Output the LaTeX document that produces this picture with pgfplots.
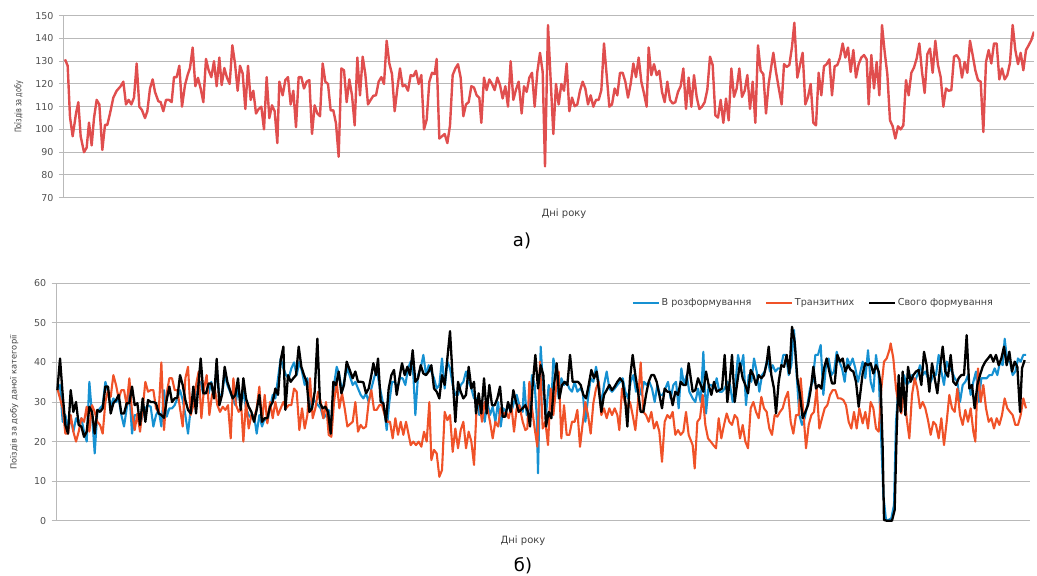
\documentclass[border=0pt]{standalone}
\usepackage{fontspec}
\setmainfont{DejaVu Sans}
\newfontfamily\narrowfont[FakeStretch=0.72]{DejaVu Sans}
\usepackage{pgfplots}
\usepackage{pgfplotstable}
\pgfplotsset{compat=1.18}
\definecolor{topred}{RGB}{224,78,78}
\definecolor{sblue}{RGB}{22,145,210}
\definecolor{sorange}{RGB}{240,82,40}
\definecolor{gridgray}{RGB}{185,185,185}
\definecolor{labelgray}{RGB}{80,80,80}
\definecolor{textgray}{RGB}{64,64,64}

\pgfplotstableread{
x y
195 130.8
203 128
210 105.5
218 97
228 107
235 112
242 97
252 90
260 92
267 103
275 93
282 105
290 113
298 111
307 91
315 102
322 102
330 107
340 114
350 117
362 119
370 121
378 111
386 113
394 111
402 114
410 129
418 110
426 108.5
435 105
442 108
450 118
458 122
465 116.5
475 112.4
482 112
490 108
498 113
507 113
515 112
522 123
530 123
538 128
546 110
555 119.5
563 124
570 127
578 136
586 119
594 122.7
602 118
610 112
618 131
626 126
634 123
642 130
650 119
658 131.6
665 119.5
673 127
681 122.7
689 120
697 137
705 129
713 117
720 128
728 124.6
736 109
744 128
752 113
760 117
768 107
776 109
784 110
792 100
800 123
808 105
816 110.6
824 108
832 94
838 121
848 115
856 121.7
864 123
872 111
880 117
888 101
896 123
904 123
912 118
920 121
928 121.7
936 98
944 110.6
952 107
960 105.8
968 129
976 121
984 120
992 108.4
1000 108.4
1008 102.6
1016 88
1024 126.8
1032 126
1040 112
1048 122
1056 115
1064 101.8
1072 131.6
1080 115
1088 132
1096 124.3
1104 111
1112 113
1120 114.8
1128 115
1136 121
1144 123
1152 120
1160 139
1168 129
1176 124.3
1184 108
1192 118
1200 126.8
1208 119
1216 119.5
1224 117
1232 123.9
1240 123.4
1248 125.8
1256 120
1264 123.9
1272 100
1280 104.3
1288 121
1296 124.9
1304 124.3
1310 131
1318 96
1326 97
1334 98
1342 94
1350 101.8
1358 123.9
1366 126.8
1374 128.7
1382 122.8
1390 105.8
1398 111
1406 112
1414 119
1422 118.4
1430 115
1438 113.9
1444 102.9
1452 122.8
1460 117.3
1468 122
1476 120
1484 117.3
1492 122.8
1500 119.5
1508 113.6
1516 119
1524 110
1532 130
1540 113
1548 117.5
1556 121
1565 107
1572 119
1580 116.5
1588 122.8
1596 124.9
1604 110
1612 125.3
1620 133.7
1628 125.3
1635 83.8
1644 145.9
1652 121.7
1660 98
1668 120
1676 111
1684 120
1692 117
1700 129
1708 108
1716 114
1724 110.2
1732 111
1740 117
1748 121
1756 118
1764 111
1772 115
1780 110
1788 113
1796 113
1804 117.3
1812 137.8
1820 123.9
1828 110
1836 111
1844 118
1852 115
1860 124.9
1868 124.9
1876 121
1884 114
1892 120
1900 129
1908 123
1916 131.6
1924 121
1932 115.8
1940 110
1946 136
1954 123.9
1962 128.7
1970 123.9
1978 125.8
1986 116.5
1994 112
2002 121
2010 113
2018 111.4
2026 112
2034 116.5
2042 119
2050 126.8
2058 109
2066 122.8
2074 110
2082 123.9
2090 114.3
2098 109
2106 110
2114 112
2122 117.5
2130 132
2138 128.3
2146 106.2
2154 105.2
2162 113
2170 102.9
2178 113.6
2186 104
2194 126.8
2202 114.3
2210 118
2218 126.8
2226 114.3
2234 117
2242 123.9
2250 109
2258 121
2266 102.9
2274 137
2282 125.8
2290 124.3
2298 107
2306 120
2320 133.7
2328 125.3
2336 118.4
2345 111
2352 128.7
2360 127.5
2368 128.3
2376 136.3
2383 146.9
2392 122.8
2400 128.3
2408 133.7
2416 111
2424 114.3
2432 120
2440 102.9
2448 101.8
2456 124.9
2464 115
2472 127.8
2480 128.7
2488 130.8
2496 115
2504 127.8
2512 128.3
2520 131.6
2528 137.8
2536 131.6
2544 136
2552 125.3
2560 134.9
2568 122.8
2576 128.7
2584 131.6
2592 132.7
2600 130.8
2606 111
2614 132.7
2622 118
2630 129.7
2638 115
2646 145.9
2654 134.1
2662 124.3
2670 104
2678 101.4
2686 96
2694 101.4
2702 100
2710 101.8
2718 121.7
2726 115
2734 124.9
2742 127.2
2750 131.2
2758 137.8
2766 125.3
2774 116
2782 133.1
2790 135.6
2798 124.9
2806 139
2814 128.3
2822 123
2830 110
2838 118
2846 117
2854 117.3
2862 132
2870 132.7
2878 130.8
2886 122.8
2894 129.7
2902 124.9
2910 139
2918 132.7
2926 126
2934 121.7
2942 121
2950 98.9
2958 129.7
2966 134.9
2974 129
2982 137.8
2990 137.8
2998 122
3006 126.8
3014 122
3022 123.9
3030 129.3
3038 145.9
3046 134.9
3054 128.7
3062 133.7
3070 126
3078 134.9
3086 137
3094 139.3
3102 143
}\topdata

\pgfplotstableread{
x y
172 33
180 34.3
188 25
196 26.7
204 23.3
212 25.9
220 22.5
228 25.9
236 24.6
244 25.9
252 22.5
260 20
268 35.1
276 26.7
284 17
292 27.5
300 28.4
308 29.2
316 35.1
324 32.6
332 28.8
340 30.9
348 30
356 30.9
364 26.7
372 23.8
380 28.4
388 32.6
396 22
404 26.7
412 26.7
420 24.2
428 26.7
436 28.4
444 29.2
452 28.8
460 23.8
468 26.7
476 28
484 23.8
492 33
500 26.3
508 28.4
516 28.4
524 29.2
532 30.9
540 33
548 30.5
556 26.7
564 22
572 28.4
580 30
588 29.7
596 35.1
602 35.1
610 31.8
618 32.6
626 32.2
634 35.1
642 30.9
650 38.5
658 31.8
666 31.8
674 36.8
682 34.3
690 32.6
698 30.9
706 29.2
714 33.4
722 29.2
730 32.6
738 28.4
746 26.7
754 25.9
762 26.7
770 22
778 26.7
786 23.8
794 25.9
802 25
810 28.4
818 31.8
826 30.9
834 36
842 41
850 38.5
858 36.8
866 36
874 38.5
882 40
890 36.8
898 40.2
906 37.7
914 34.3
922 36
930 28.4
938 30.9
946 30
954 29.2
962 28.4
970 25.9
978 26.7
986 28
994 22
1002 34.3
1010 38.9
1018 36.8
1026 32.6
1034 36
1042 38.5
1058 34.3
1066 35.1
1074 33.4
1082 31.8
1090 30.9
1098 32.2
1106 30
1114 33.4
1122 36
1130 38.5
1138 34.3
1146 30.9
1154 27.5
1160 22.9
1168 30
1176 35.1
1184 35.1
1192 33.4
1200 36
1208 36
1216 34.3
1224 38.5
1232 40.2
1240 36.8
1246 26.7
1254 36.8
1262 38.5
1270 41.9
1278 36.8
1286 39.3
1294 37.7
1302 36
1310 33.4
1318 34.3
1326 41
1334 33.4
1342 40.2
1350 38.5
1358 34.3
1366 31.8
1374 31.8
1382 34.3
1390 35.1
1398 37.7
1406 35.1
1414 33.4
1422 30.9
1430 30.9
1438 26.7
1446 30
1454 25
1462 30
1470 26.7
1478 28.8
1486 25
1494 30
1502 23.8
1510 28.4
1518 27.5
1526 29.2
1534 27.5
1542 30
1550 31.8
1558 29.2
1568 27.5
1572 35.1
1580 26.7
1588 28.4
1596 36.8
1604 34.3
1610 26.7
1614 12
1622 44
1630 32.6
1638 26.7
1646 34.3
1654 29.2
1660 41
1668 37.7
1676 30.9
1684 36
1692 34.3
1700 35.1
1708 33.4
1716 32.6
1724 35.1
1732 32.6
1740 33.4
1748 32.6
1756 25
1764 30.9
1772 36
1780 35.1
1788 38.9
1796 35.1
1804 29.2
1812 34.3
1820 37.7
1828 33.4
1836 32.6
1844 33.4
1852 34.3
1860 35.1
1868 36
1876 32.6
1884 30.9
1892 35.1
1900 36.8
1908 32.6
1916 34.3
1924 31.8
1932 35.1
1940 34.3
1948 35.1
1956 33.4
1964 30
1972 34.3
1980 31.8
1988 31.8
1996 33.4
2004 35.1
2012 30.9
2020 34.3
2028 35.1
2036 28.4
2044 38.5
2052 34.3
2060 36.8
2068 32.6
2078 30.9
2086 30
2094 33.4
2102 30
2110 42.7
2118 27.1
2126 34.3
2134 34.3
2142 33.4
2150 36
2158 32.6
2166 32.6
2174 33.4
2182 35.1
2190 34.3
2198 30
2206 34.3
2214 41.9
2222 38.5
2230 41.9
2238 29.2
2246 36.8
2254 35.1
2262 41
2270 37.7
2278 32.6
2286 36.8
2294 37.7
2302 41
2310 37.7
2318 39.3
2326 37.7
2334 38.5
2342 38.5
2350 41.9
2358 41.9
2366 36.8
2374 39.3
2382 48.2
2390 36.8
2398 26.7
2406 24.2
2414 25.9
2422 29.2
2430 33.4
2438 35.1
2446 41.9
2454 41.9
2462 44.4
2470 31.8
2478 39.3
2486 41
2494 36.8
2502 37.7
2510 42.7
2518 40.2
2526 38.5
2534 35.1
2542 41
2550 39.3
2558 41
2566 38.5
2574 35.1
2588 40.2
2596 36
2604 43.1
2612 35.1
2620 32.6
2628 41.9
2636 36.8
2642 24.2
2650 6.5
2658 0.2
2666 0.2
2674 0.6
2682 4
2688 25
2696 34.3
2704 30
2712 36.8
2720 34.3
2728 35.1
2736 36.8
2744 35.1
2752 36.8
2760 39.3
2768 36.8
2776 37.7
2784 36
2792 35.1
2800 36.8
2808 36.8
2816 41.9
2824 37.7
2832 34.3
2840 40.2
2848 38.5
2856 37.7
2864 36
2872 35.1
2880 30
2888 34.3
2896 35.1
2904 36.8
2912 31.8
2920 35.1
2928 37.7
2936 30
2944 36
2952 36
2960 36
2968 36.8
2976 36.8
2984 38.5
2992 36.8
3000 40.2
3008 39.3
3014 46
3022 40.2
3030 40.2
3038 36.8
3046 37.7
3054 41
3062 40.2
3070 41.9
3078 41.9
}\bluedata

\pgfplotstableread{
x y
172 33.4
180 30.9
188 28.4
196 22
204 22
212 26.7
220 22.5
228 20
236 22.5
244 25.9
252 25
260 28.8
268 22.5
276 29.2
284 27.5
292 25
300 24.2
308 22
316 30
324 33
332 31.3
340 36.8
348 34.3
356 30.9
364 33
372 33
380 29.2
388 36
396 27.5
404 22.9
412 27.1
420 22.5
428 28.4
436 35.1
444 32.6
452 33
460 33
468 28.4
476 27.5
484 40
492 22.9
500 32.2
508 36
516 36
524 33
532 33
540 28.4
548 23.8
556 36
564 38.9
572 26.7
580 29.2
588 34.3
596 37.7
604 25.9
612 33.4
620 36.8
628 26.7
636 31.8
644 33.4
652 29.2
660 27.5
668 28.8
676 28
684 29.2
692 20.8
700 36
708 29.2
716 27.5
724 28.4
730 20
738 30
746 23.3
754 26.7
762 25.9
770 28.4
778 33.9
786 25
794 31.8
802 24.6
810 30
818 25.9
826 30
834 26.7
842 28.4
850 30
858 28.4
866 29.2
874 29.2
882 33.4
890 32.6
898 22.9
906 28.4
914 23.3
922 26.7
930 36
938 25.9
946 28.4
954 32.6
962 30
970 25.9
978 30
986 21.7
994 21.2
1002 30
1010 35.1
1018 28.4
1026 32.2
1034 28.4
1042 23.8
1058 25
1066 30
1074 22.5
1082 24.2
1090 23.3
1098 23.8
1106 30
1114 33
1122 28
1130 28
1138 29.2
1146 29.2
1154 26.7
1162 25
1170 25
1178 20.8
1186 25.9
1194 21.7
1202 25
1210 21.7
1218 25
1226 21.7
1232 19.1
1240 20
1248 19.1
1256 20
1264 18.7
1272 22.5
1280 20
1288 30
1294 15.3
1302 17.9
1310 17
1318 11.1
1326 12.8
1334 27.5
1342 25.4
1350 26.7
1358 17.4
1366 23.3
1374 18.3
1382 22.9
1390 25
1398 18.3
1406 22.5
1414 20
1422 14.1
1430 29.2
1438 30
1446 25
1454 30
1462 28.4
1470 25
1478 20.8
1486 25
1494 23.8
1502 28.4
1510 26.7
1518 27.5
1526 25.9
1534 29.2
1542 22.5
1550 28.4
1558 29.2
1568 25
1576 22.9
1582 23.3
1588 35.1
1596 28.4
1604 23.3
1612 18.7
1620 40.2
1628 23.3
1636 25
1644 19.1
1652 33.4
1660 26.7
1668 33.4
1676 37.7
1684 20.8
1692 29.2
1700 21.7
1708 21.7
1716 25
1724 25
1732 28
1740 18.7
1748 24.6
1756 30
1764 26.7
1772 22
1780 29.7
1788 33.4
1796 35.1
1804 26.7
1812 28.4
1820 25.9
1828 28.4
1836 26.7
1844 28.4
1852 26.7
1858 22.9
1866 33.4
1874 30
1882 28.4
1890 30
1898 26.7
1906 22.9
1914 30
1922 40
1930 27.5
1938 26.7
1946 25
1954 27.5
1962 23.3
1970 25
1978 22.5
1986 14.9
1994 25
2002 26.7
2010 25.9
2018 27.5
2026 21.7
2034 22.9
2042 21.7
2050 22.5
2058 27.5
2066 21.7
2078 19.1
2084 13.2
2092 25
2100 25.9
2108 31.8
2116 24.2
2124 20.8
2132 20
2140 19.1
2148 18.3
2156 25.9
2164 20.8
2172 24.2
2180 27.1
2188 25
2196 24.2
2204 26.7
2212 25.9
2220 20.8
2228 24.2
2236 20
2244 18.3
2252 28.4
2260 30
2268 27.5
2276 25.9
2284 31.3
2292 28.4
2300 27.5
2308 23.3
2316 21.7
2324 26.7
2332 26.3
2340 27.5
2348 28.4
2356 30.9
2364 32.6
2372 25
2380 22
2388 26.7
2396 26.7
2402 36
2410 27.5
2418 18.3
2426 24.2
2434 26.7
2442 27.5
2450 33.4
2458 23.3
2466 25.9
2474 28.4
2482 29.2
2490 31.8
2498 33
2506 33
2514 30.9
2522 30.9
2530 30.5
2538 29.2
2546 25
2554 23.3
2562 27.5
2570 23.3
2578 28.4
2588 24.6
2596 27.5
2604 23.3
2612 30
2620 28.4
2628 23.3
2636 22.5
2644 33.4
2652 40.2
2660 41
2668 43.1
2672 44.8
2680 41
2688 33.4
2696 29.2
2704 27.1
2712 32.6
2720 25.9
2728 20.8
2736 31.8
2744 36
2752 33.4
2760 28.4
2768 30
2776 28.4
2784 25.4
2792 21.7
2800 25
2808 24.2
2816 20.8
2824 25.9
2832 19.1
2840 25
2848 31.8
2856 28.4
2864 27.5
2872 33.4
2880 26.7
2888 24.2
2896 28
2904 25
2912 28.4
2920 22.5
2926 20
2934 38.5
2942 30
2950 34.3
2958 28.4
2966 25
2974 25.9
2982 23.3
2990 25.9
2998 24.2
3006 26.7
3014 30.9
3022 28.4
3030 27.5
3038 26.7
3046 24.2
3054 24.2
3062 26.7
3070 30.9
3078 28.4
}\reddata

\pgfplotstableread{
x y
172 33
180 41
188 31.8
196 24.2
204 22
212 33
220 27.5
228 30
236 24.2
244 23.8
252 21.2
260 22.5
268 28.8
276 27.5
284 22
292 28
300 27.5
308 28.4
316 33.9
324 33.9
332 27.1
340 29.7
348 30.5
356 31.8
364 27.1
372 27.1
380 29.7
388 29.7
396 33.9
404 29.2
412 29.7
420 24.2
428 30.9
436 25
444 30.5
452 30
460 30
468 29.7
476 27.1
484 26.7
492 26
500 30.5
508 33.9
516 30
524 30.9
532 31.1
540 36.8
548 34.3
556 30.5
564 28
572 27.1
580 33.9
588 27.1
596 35.1
602 41
610 32.2
618 32.2
626 34.7
634 34.7
642 30.9
650 40.9
658 29.2
666 31.8
674 38.9
682 35.1
690 33
698 30.9
706 31.8
714 36
722 28
730 36
738 30.9
746 28.8
754 27.5
762 25
770 28
778 31.8
786 25
794 25.9
802 25.9
810 28.8
818 30
826 33.4
834 31.8
842 40.6
850 44
856 28
864 36.8
872 35.1
880 36
888 36.8
896 44
904 38.9
912 36.8
920 35.1
928 27.5
936 28.4
944 32.6
952 46
960 29.7
968 28.4
976 28.8
984 27.5
992 22
1000 35.1
1008 34.3
1016 37.7
1024 32.2
1032 34.3
1040 40.2
1058 36
1066 37.7
1074 35.1
1082 35.1
1090 35
1098 32.2
1106 33.4
1114 36.8
1120 39.8
1128 36.8
1134 41
1142 30
1150 29.7
1158 25
1166 33.4
1174 36.8
1182 38.1
1190 31.8
1198 36
1206 39.8
1214 36.8
1222 38.9
1230 36.8
1238 43.1
1246 35.1
1254 36
1262 39.3
1270 37.2
1278 36.8
1286 37.7
1294 39.3
1302 33.4
1310 32.6
1318 30.9
1326 36.8
1334 34.3
1342 41
1350 47.9
1358 36
1366 25
1374 35.1
1382 32.6
1390 30.9
1398 31.8
1406 38.9
1414 33.4
1422 35.1
1428 27.1
1436 32.2
1444 27.1
1452 36
1460 27.1
1468 34.3
1476 29.2
1484 29.2
1492 30.9
1500 33.9
1508 26.3
1516 26.3
1524 30
1532 27.5
1540 33
1548 30
1556 27.5
1568 28.4
1576 29.2
1584 27.5
1590 23.8
1598 34.3
1606 41.9
1614 33.4
1622 39.3
1630 36.8
1638 23.8
1646 27.5
1654 25.9
1662 34.3
1670 39.8
1678 30.9
1686 34.3
1694 35.1
1702 34.3
1710 41.9
1718 35.1
1726 35.1
1734 35.1
1742 34.3
1750 31.8
1758 30.9
1766 34.3
1774 38.1
1782 36
1790 37.7
1796 33.4
1804 27.5
1812 31.8
1820 33
1828 34.3
1836 33
1844 33.9
1852 35.1
1860 36
1868 35.1
1876 30
1882 23.8
1890 36
1898 41.9
1906 36.8
1914 32.6
1922 27.5
1930 27.5
1938 31.8
1946 35.1
1954 36.8
1962 36.8
1970 35.1
1978 31.8
1986 28.4
1994 33.4
2002 32.6
2010 32.6
2018 29.2
2026 32.6
2034 31.8
2042 35.1
2050 34.3
2058 34.3
2066 39.8
2078 32.6
2086 33
2094 36
2102 34.3
2110 32.6
2118 37.7
2126 34.3
2134 31.8
2142 35.1
2150 32.6
2158 33
2166 33.4
2174 41.9
2182 30
2190 36
2196 41.9
2204 30
2212 35.1
2220 39.8
2228 36
2236 34.3
2244 32.2
2252 38.1
2260 36.8
2268 34.3
2276 36.8
2284 36
2292 36.8
2300 39.8
2306 44
2314 36.8
2322 33.4
2328 27.1
2336 35.1
2344 39.3
2352 38.9
2360 41.9
2368 37.2
2376 49
2384 45.2
2392 36
2400 31.8
2408 25.9
2416 27.5
2424 29.2
2432 33
2440 38.9
2448 33.4
2456 34.3
2464 33.4
2472 38.5
2480 41
2488 37.7
2496 34.7
2504 34.7
2512 41.9
2520 40.2
2528 41
2536 37.7
2544 39.3
2552 38.1
2560 37.7
2568 35.1
2576 28.8
2588 37.2
2596 39.8
2604 39.3
2612 39.8
2620 37.2
2628 39.3
2636 37.7
2642 34.3
2648 18.3
2652 0.2
2660 0
2668 0
2676 0
2684 2.7
2690 22.5
2696 36.8
2702 27.5
2708 37.7
2716 26.7
2724 38.9
2732 35.1
2740 36.8
2748 37.7
2756 38.1
2764 34.3
2772 42.7
2780 39.3
2788 32.6
2796 39.8
2804 36
2812 32.2
2820 38.5
2828 44
2836 37.7
2844 36.4
2852 41.9
2860 35.1
2868 34.3
2876 36
2884 36.8
2892 36.8
2900 46.9
2908 33.4
2916 34.3
2924 28.4
2932 34.3
2940 36.8
2948 38.9
2956 40.2
2964 41
2972 41.9
2980 40.2
2988 41.9
2996 39.3
3004 41
3012 44
3020 39.3
3028 42.7
3036 37.7
3044 40.2
3052 38.9
3060 27.5
3066 38.5
3074 40.6
}\blackdata

\begin{document}
\begin{tikzpicture}[x=1pt,y=1pt]
\path[use as bounding box] (0,0) rectangle (1037,576);

\begin{axis}[
  at={(64pt,378.3pt)}, anchor=south west,
  scale only axis, width=970pt, height=182pt,
  xmin=192, xmax=3102, ymin=70, ymax=150,
  ytick={70,80,...,150}, xtick=\empty,
  axis x line=bottom, axis y line=left,
  axis line style={draw=gridgray, line width=1pt, -},
  ymajorgrids, grid style={draw=gridgray, line width=1pt},
  tick align=outside, major tick length=5pt,
  ytick style={draw=gridgray, line width=1pt},
  /pgf/number format/assume math mode=true,
  yticklabel style={font=\fontsize{9.5}{11}\selectfont, text=labelgray, xshift=-2pt},
]
\addplot[topred, line width=2.4pt, line join=round] table[x=x,y=y]{\topdata};
\end{axis}

\begin{axis}[
  at={(56.7pt,55.3pt)}, anchor=south west,
  scale only axis, width=973.3pt, height=237.4pt,
  xmin=170, xmax=3090, ymin=0, ymax=60,
  ytick={0,10,...,60}, xtick=\empty,
  clip=false,
  axis x line=bottom, axis y line=left,
  axis line style={draw=gridgray, line width=1pt, -},
  ymajorgrids, grid style={draw=gridgray, line width=1pt},
  tick align=outside, major tick length=5pt,
  ytick style={draw=gridgray, line width=1pt},
  /pgf/number format/assume math mode=true,
  yticklabel style={font=\fontsize{9.5}{11}\selectfont, text=labelgray, xshift=-2pt},
  legend columns=3,
  legend style={at={(0.7776,0.917)}, anchor=center, draw=none, fill=none,
    font=\fontsize{9.6}{11}\selectfont, text=textgray,
    /tikz/every even column/.append style={column sep=12pt}},
  legend image code/.code={\draw[#1, line width=1.6pt] (0pt,0pt) -- (26pt,0pt);},
]
\addplot[sblue, line width=2.1pt, line join=round] table[x=x,y=y]{\bluedata};
\addlegendentry{В розформування}
\addplot[sorange, line width=2.1pt, line join=round] table[x=x,y=y]{\reddata};
\addlegendentry{Транзитних}
\addplot[black, line width=2.3pt, line join=round] table[x=x,y=y]{\blackdata};
\addlegendentry{Свого формування}
\end{axis}

\node[rotate=90, text=textgray, font=\narrowfont\fontsize{9}{10}\selectfont] at (18.7,469) {Поїздів за добу};
\node[text=textgray, font=\fontsize{10}{11}\selectfont] at (564,362) {Дні року};
\node[text=black, font=\fontsize{18}{20}\selectfont] at (522,335) {а)};

\node[rotate=90, text=textgray, font=\fontsize{8.3}{9}\selectfont] at (14.2,173.5) {Поїздів за добу даної категорії};
\node[text=textgray, font=\fontsize{10}{11}\selectfont] at (523,35) {Дні року};
\node[text=black, font=\fontsize{18}{20}\selectfont] at (523,10) {б)};
\end{tikzpicture}
\end{document}
